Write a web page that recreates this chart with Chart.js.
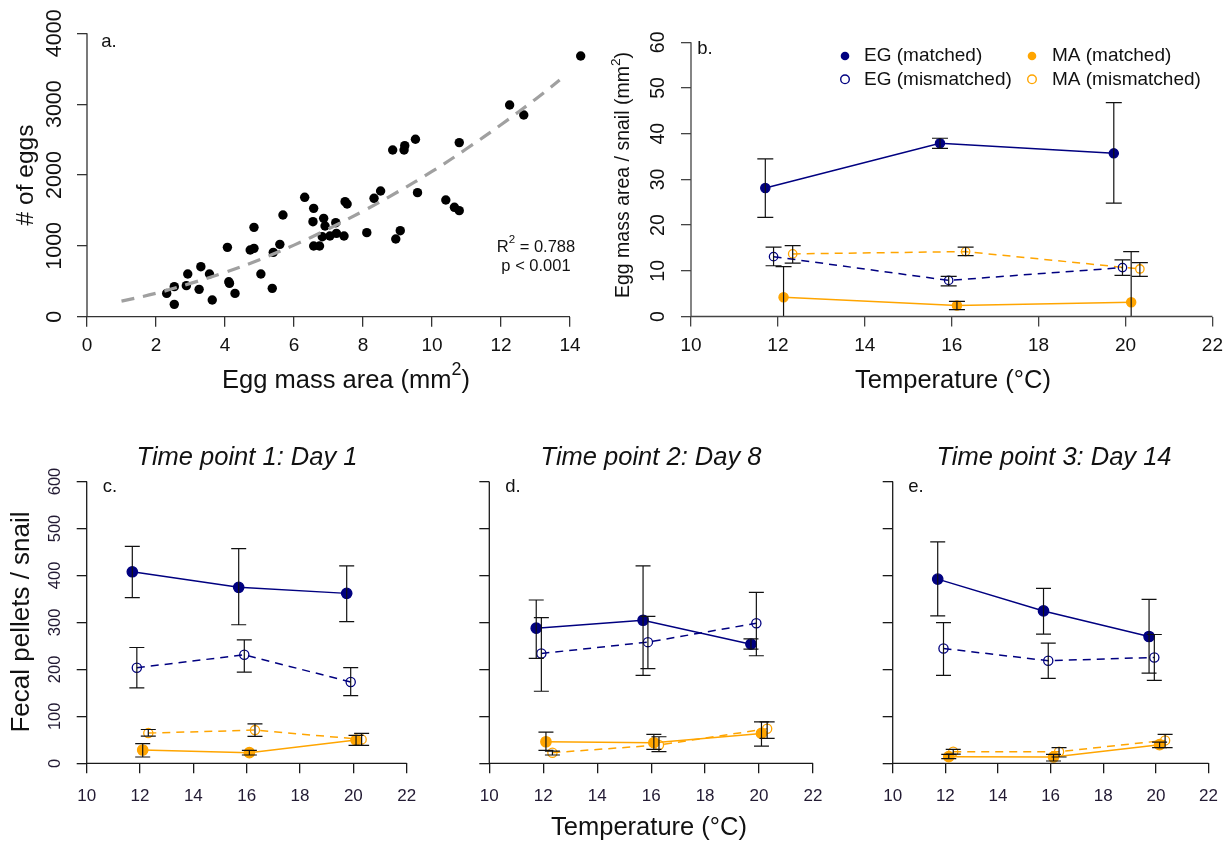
<!DOCTYPE html>
<html><head><meta charset="utf-8">
<script src="https://cdn.jsdelivr.net/npm/chart.js@4.4.0/dist/chart.umd.min.js"></script>
<style>
html,body{margin:0;padding:0;background:#fff;}
#wrap{position:relative;width:1231px;height:846px;overflow:hidden;background:#fff;}
#wrap canvas{position:absolute;left:0;top:0;}
</style></head>
<body><div id="wrap">
<canvas id="pa" width="1231" height="846"></canvas>
<canvas id="pb" width="1231" height="846"></canvas>
<canvas id="pc" width="1231" height="846"></canvas>
<canvas id="pd" width="1231" height="846"></canvas>
<canvas id="pe" width="1231" height="846"></canvas>
</div>
<script>
// ---------- tick labels ----------
const aXTicks = [0, 2, 4, 6, 8, 10, 12, 14];
const aYTicks = [0, 1000, 2000, 3000, 4000];
const tempTicks = [10, 12, 14, 16, 18, 20, 22];
const bYTicks = [0, 10, 20, 30, 40, 50, 60];
const pelletTicks = [0, 100, 200, 300, 400, 500, 600];
const seriesNames = ['EG (matched)', 'EG (mismatched)', 'MA (matched)', 'MA (mismatched)'];
const panelTitles = ['Time point 1: Day 1', 'Time point 2: Day 8', 'Time point 3: Day 14'];

// ---------- panel a: egg mass area vs eggs ----------
const aArea = [2.31,2.53,2.53,2.88,2.92,3.25,3.30,3.55,3.63,4.07,4.11,4.13,4.29,4.73,4.84,4.84,5.04,5.37,5.40,5.59,5.68,6.31,6.57,6.55,6.57,6.74,6.86,6.90,6.82,7.04,7.21,7.23,7.45,7.54,7.48,8.11,8.32,8.51,8.86,8.95,9.08,9.21,9.19,9.52,9.58,10.40,10.65,10.79,10.79,12.25,12.66,14.31];
const aEggs = [329,424,174,438,602,386,706,602,235,979,494,470,329,941,965,1261,602,400,908,1021,1435,1685,1529,1341,998,998,1388,1280,1129,1139,1327,1176,1139,1591,1624,1186,1671,1774,2353,1097,1214,2414,2353,2504,1751,1647,1544,1497,2457,2988,2847,3680];
const aFitX = [1, 2, 3, 4, 5, 6, 7, 8, 9, 10, 11, 12, 13, 13.7];
const aFitY = [220, 330, 470, 625, 805, 1010, 1240, 1490, 1760, 2050, 2370, 2710, 3070, 3340];

// ---------- panel b: egg mass area / snail ----------
const bEGmX = [11.71, 15.73, 19.73];
const bEGmY = [28.1, 37.9, 35.7];
const bEGmLo = [21.7, 36.8, 24.8];
const bEGmHi = [34.5, 39.0, 46.8];
const bEGxX = [11.9, 15.93, 19.93];
const bEGxY = [13.1, 7.9, 10.7];
const bEGxLo = [11.1, 6.7, 9.0];
const bEGxHi = [15.2, 8.8, 12.4];
const bMAmX = [12.13, 16.12, 20.13];
const bMAmY = [4.2, 2.4, 3.1];
const bMAmLo = [-2.4, 1.5, -8.0];
const bMAmHi = [10.9, 3.3, 14.2];
const bMAxX = [12.34, 16.32, 20.33];
const bMAxY = [13.7, 14.2, 10.4];
const bMAxLo = [11.7, 13.3, 8.8];
const bMAxHi = [15.5, 15.2, 11.8];

// ---------- panel c: day 1 ----------
const cEGmX = [11.71, 15.7, 19.75];
const cEGmY = [407.8, 374.6, 361.8];
const cEGmLo = [352.6, 295, 301.8];
const cEGmHi = [462, 457, 420.5];
const cEGxX = [11.88, 15.91, 19.9];
const cEGxY = [203.5, 231, 173];
const cEGxLo = [160.4, 194.3, 144];
const cEGxHi = [246.6, 263, 203.5];
const cMAmX = [12.1, 16.1, 20.1];
const cMAmY = [28.3, 22.6, 49.5];
const cMAmLo = [13.4, 17.7, 38.2];
const cMAmHi = [41.7, 27.6, 59.4];
const cMAxX = [12.31, 16.31, 20.31];
const cMAxY = [64.3, 70.7, 50.9];
const cMAxLo = [58, 57.2, 38.2];
const cMAxHi = [72, 84.1, 63.6];

// ---------- panel d: day 8 ----------
const dEGmX = [11.74, 15.7, 19.7];
const dEGmY = [287.6, 304.6, 253.7];
const dEGmLo = [223.3, 187.3, 243.1];
const dEGmHi = [347.7, 420.5, 265];
const dEGxX = [11.93, 15.88, 19.9];
const dEGxY = [233.9, 258, 298.2];
const dEGxLo = [153.4, 201.4, 229];
const dEGxHi = [310.2, 313, 364];
const dMAmX = [12.1, 16.1, 20.09];
const dMAmY = [45.9, 43.8, 63.6];
const dMAmLo = [27.6, 29.7, 36.7];
const dMAmHi = [66.4, 61.5, 88.3];
const dMAxX = [12.34, 16.29, 20.3];
const dMAxY = [22.6, 38.9, 73.5];
const dMAxLo = [17.7, 24.7, 53];
const dMAxHi = [26.1, 56.5, 88.3];

// ---------- panel e: day 14 ----------
const eEGmX = [11.71, 15.73, 19.74];
const eEGmY = [392.2, 324.4, 270];
const eEGmLo = [313.8, 274.9, 192.2];
const eEGmHi = [471.4, 372.4, 349.1];
const eEGxX = [11.93, 15.91, 19.94];
const eEGxY = [244.5, 218.4, 225.4];
const eEGxLo = [187.3, 180.9, 176.7];
const eEGxHi = [299.6, 255.8, 274.2];
const eMAmX = [12.13, 16.11, 20.14];
const eMAmY = [14.1, 13.4, 39.6];
const eMAmLo = [9.9, 4.9, 33.2];
const eMAmHi = [19.1, 19.1, 45.2];
const eMAxX = [12.3, 16.32, 20.35];
const eMAxY = [24.7, 24.7, 48.8];
const eMAxLo = [19.7, 13.4, 33.2];
const eMAxHi = [29.7, 33.2, 61.5];

// ---------- styling ----------
const FONT = '"Liberation Sans", Arial, Helvetica, sans-serif';
const NAVY = '#000080';
const ORANGE = '#FFA500';
Chart.defaults.font.family = FONT;
const W = 1231, H = 846, Y_W = 20, X_H = 40;

function pts(xs, ys) { return xs.map((x, i) => ({x: x, y: ys[i]})); }

// rich text: parts = [[string, isSuperscript], ...], centred (or left-aligned) at x, y
function rich(ctx, parts, x, y, size, opt) {
  opt = opt || {};
  const pre = opt.italic ? 'italic ' : '';
  const supSize = size * 0.7;
  ctx.save();
  ctx.fillStyle = opt.color || '#111';
  ctx.textBaseline = 'middle';
  ctx.textAlign = 'left';
  let total = 0;
  const widths = parts.map(p => {
    ctx.font = pre + (p[1] ? supSize : size) + 'px ' + FONT;
    const w = ctx.measureText(p[0]).width; total += w; return w;
  });
  ctx.translate(x, y);
  if (opt.rot) ctx.rotate(-Math.PI / 2);
  let cx = opt.align === 'left' ? 0 : -total / 2;
  parts.forEach((p, i) => {
    ctx.font = pre + (p[1] ? supSize : size) + 'px ' + FONT;
    ctx.fillText(p[0], cx, p[1] ? -size * 0.42 : 0);
    cx += widths[i];
  });
  ctx.restore();
}
function text(ctx, s, x, y, size, opt) { rich(ctx, [[s, false]], x, y, size, opt); }

function axesLines(chart, color) {
  const ctx = chart.ctx, xs = chart.scales.x, ys = chart.scales.y, ca = chart.chartArea;
  const xt = xs.ticks, yt = ys.ticks;
  ctx.save();
  ctx.strokeStyle = color; ctx.lineWidth = 1.3;
  ctx.beginPath();
  ctx.moveTo(xs.getPixelForValue(xt[0].value), ca.bottom);
  ctx.lineTo(xs.getPixelForValue(xt[xt.length - 1].value), ca.bottom);
  ctx.moveTo(ca.left, ys.getPixelForValue(yt[0].value));
  ctx.lineTo(ca.left, ys.getPixelForValue(yt[yt.length - 1].value));
  ctx.stroke();
  ctx.restore();
}

function yLabels(chart, labels, x, size, color) {
  const ys = chart.scales.y;
  labels.forEach(v => text(chart.ctx, String(v), x, ys.getPixelForValue(v), size, {rot: true, color: color}));
}

function errorBars(chart, groups, cap) {
  const ctx = chart.ctx, xs = chart.scales.x, ys = chart.scales.y, ca = chart.chartArea;
  ctx.save();
  ctx.beginPath(); ctx.rect(ca.left, ca.top, ca.right - ca.left, ca.bottom - ca.top); ctx.clip();
  ctx.strokeStyle = '#111'; ctx.lineWidth = 1.2;
  groups.forEach(g => {
    g.x.forEach((xv, i) => {
      const px = xs.getPixelForValue(xv);
      const lo = ys.getPixelForValue(g.lo[i]), hi = ys.getPixelForValue(g.hi[i]);
      ctx.beginPath();
      ctx.moveTo(px, lo); ctx.lineTo(px, hi);
      ctx.moveTo(px - cap, lo); ctx.lineTo(px + cap, lo);
      ctx.moveTo(px - cap, hi); ctx.lineTo(px + cap, hi);
      ctx.stroke();
    });
  });
  ctx.restore();
}

function makeChart(id, cfg) {
  const A = cfg.area;
  return new Chart(document.getElementById(id), {
    type: 'scatter',
    data: {datasets: cfg.datasets},
    options: {
      responsive: false, animation: false, devicePixelRatio: 1,
      layout: {padding: {left: A.left - Y_W, right: W - A.right, top: A.top, bottom: H - A.bottom - X_H}},
      plugins: {legend: {display: false}, tooltip: {enabled: false}, title: {display: false}},
      scales: {
        x: {
          type: 'linear', min: cfg.xMin, max: cfg.xMax,
          afterBuildTicks: s => { s.ticks = cfg.xTicks.map(v => ({value: v})); },
          afterFit: s => { s.height = X_H; },
          border: {display: false},
          grid: {drawOnChartArea: false, drawTicks: true, tickLength: 10, color: cfg.axisColor, lineWidth: 1.3},
          ticks: {autoSkip: false, maxRotation: 0, padding: cfg.xPad, color: cfg.tickColor,
                  font: {family: FONT, size: cfg.xTickSize}}
        },
        y: {
          type: 'linear', min: cfg.yMin, max: cfg.yMax,
          afterBuildTicks: s => { s.ticks = cfg.yTicks.map(v => ({value: v})); },
          afterFit: s => { s.width = Y_W; },
          border: {display: false},
          grid: {drawOnChartArea: false, drawTicks: true, tickLength: 10, color: cfg.axisColor, lineWidth: 1.3},
          ticks: {display: false}
        }
      }
    },
    plugins: [{
      id: 'deco_' + id,
      afterDatasetsDraw(chart) { if (cfg.errors) errorBars(chart, cfg.errors, cfg.cap); },
      afterDraw(chart) { axesLines(chart, cfg.axisColor); cfg.draw(chart); }
    }]
  });
}

function seriesSets(EGm, EGx, MAm, MAx, rf, ro) {
  const base = {showLine: true, borderWidth: 1.5, pointBorderWidth: 1.3, tension: 0};
  return [
    Object.assign({}, base, {label: seriesNames[0], data: EGm, borderColor: NAVY, pointBackgroundColor: NAVY, pointBorderColor: NAVY, pointRadius: rf}),
    Object.assign({}, base, {label: seriesNames[1], data: EGx, borderColor: NAVY, borderDash: [8, 6], pointBackgroundColor: 'rgba(0,0,0,0)', pointBorderColor: NAVY, pointRadius: ro}),
    Object.assign({}, base, {label: seriesNames[2], data: MAm, borderColor: ORANGE, pointBackgroundColor: ORANGE, pointBorderColor: ORANGE, pointRadius: rf}),
    Object.assign({}, base, {label: seriesNames[3], data: MAx, borderColor: ORANGE, borderDash: [8, 6], pointBackgroundColor: 'rgba(0,0,0,0)', pointBorderColor: ORANGE, pointRadius: ro})
  ];
}

// ---------- panel a ----------
makeChart('pa', {
  area: {left: 87, right: 87 + 14.5 * 34.5, top: 33.3, bottom: 316.7},
  xMin: 0, xMax: 14.5, yMin: 0, yMax: 4000, xTicks: aXTicks, yTicks: aYTicks,
  axisColor: '#333', tickColor: '#111', xTickSize: 19, xPad: 8,
  datasets: [
    {label: 'fit', data: pts(aFitX, aFitY), showLine: true, borderColor: '#a0a0a0', borderWidth: 3.2,
     borderDash: [13, 9], pointRadius: 0, tension: 0.4, clip: false},
    {label: 'eggs', data: pts(aArea, aEggs), showLine: false, pointRadius: 4.7, pointBackgroundColor: '#000',
     pointBorderColor: '#000', pointBorderWidth: 0, clip: false}
  ],
  draw(chart) {
    const ctx = chart.ctx;
    yLabels(chart, aYTicks, 55, 21.5, '#111');
    text(ctx, '# of eggs', 26, 175, 24.5, {rot: true});
    rich(ctx, [['Egg mass area (mm', false], ['2', true], [')', false]], 346, 381, 25.5);
    text(ctx, 'a.', 109, 42, 18.5);
    rich(ctx, [['R', false], ['2', true], [' = 0.788', false]], 536, 247, 16.5);
    text(ctx, 'p < 0.001', 536, 266, 16.5);
  }
});

// ---------- panel b ----------
makeChart('pb', {
  area: {left: 691, right: 1213, top: 42.3, bottom: 316.5},
  xMin: 10, xMax: 22, yMin: 0, yMax: 60, xTicks: tempTicks, yTicks: bYTicks,
  axisColor: '#444', tickColor: '#111', xTickSize: 19, xPad: 8,
  datasets: seriesSets(pts(bEGmX, bEGmY), pts(bEGxX, bEGxY), pts(bMAmX, bMAmY), pts(bMAxX, bMAxY), 4.6, 4.2),
  errors: [
    {x: bEGmX, lo: bEGmLo, hi: bEGmHi}, {x: bEGxX, lo: bEGxLo, hi: bEGxHi},
    {x: bMAmX, lo: bMAmLo, hi: bMAmHi}, {x: bMAxX, lo: bMAxLo, hi: bMAxHi}
  ],
  cap: 8,
  draw(chart) {
    const ctx = chart.ctx;
    yLabels(chart, bYTicks, 659, 19.5, '#111');
    rich(ctx, [['Egg mass area / snail (mm', false], ['2', true], [')', false]], 624, 175, 19.5, {rot: true});
    text(ctx, 'Temperature (\u00B0C)', 953, 381, 25.5);
    text(ctx, 'b.', 705, 49, 18.5);
    // legend
    const rows = [56, 79.3], mx = [845, 1032], tx = [864, 1052];
    const cols = [NAVY, NAVY, ORANGE, ORANGE];
    seriesNames.forEach((n, i) => {
      const c = i < 2 ? 0 : 1, r = i % 2;
      ctx.save();
      ctx.beginPath(); ctx.arc(mx[c], rows[r], 4.3, 0, Math.PI * 2);
      if (r === 0) { ctx.fillStyle = cols[i]; ctx.fill(); }
      else { ctx.strokeStyle = cols[i]; ctx.lineWidth = 1.4; ctx.stroke(); }
      ctx.restore();
      text(ctx, n, tx[c], rows[r], 19, {align: 'left'});
    });
  }
});

// ---------- panels c, d, e ----------
const lower = [
  {id: 'pc', left: 86.7, right: 406.7, letter: 'c.', lx: 110, title: panelTitles[0], tx: 247,
   sets: [pts(cEGmX, cEGmY), pts(cEGxX, cEGxY), pts(cMAmX, cMAmY), pts(cMAxX, cMAxY)],
   errors: [{x: cEGmX, lo: cEGmLo, hi: cEGmHi}, {x: cEGxX, lo: cEGxLo, hi: cEGxHi}, {x: cMAmX, lo: cMAmLo, hi: cMAmHi}, {x: cMAxX, lo: cMAxLo, hi: cMAxHi}]},
  {id: 'pd', left: 489.3, right: 813, letter: 'd.', lx: 513, title: panelTitles[1], tx: 651,
   sets: [pts(dEGmX, dEGmY), pts(dEGxX, dEGxY), pts(dMAmX, dMAmY), pts(dMAxX, dMAxY)],
   errors: [{x: dEGmX, lo: dEGmLo, hi: dEGmHi}, {x: dEGxX, lo: dEGxLo, hi: dEGxHi}, {x: dMAmX, lo: dMAmLo, hi: dMAmHi}, {x: dMAxX, lo: dMAxLo, hi: dMAxHi}]},
  {id: 'pe', left: 892.7, right: 1212.7, letter: 'e.', lx: 916, title: panelTitles[2], tx: 1054,
   sets: [pts(eEGmX, eEGmY), pts(eEGxX, eEGxY), pts(eMAmX, eMAmY), pts(eMAxX, eMAxY)],
   errors: [{x: eEGmX, lo: eEGmLo, hi: eEGmHi}, {x: eEGxX, lo: eEGxLo, hi: eEGxHi}, {x: eMAmX, lo: eMAmLo, hi: eMAmHi}, {x: eMAxX, lo: eMAxLo, hi: eMAxHi}]}
];
lower.forEach((p, k) => {
  makeChart(p.id, {
    area: {left: p.left, right: p.right, top: 481.5, bottom: 763.3},
    xMin: 10, xMax: 22, yMin: 0, yMax: 600, xTicks: tempTicks, yTicks: pelletTicks,
    axisColor: '#1a1a1a', tickColor: '#221a33', xTickSize: 17, xPad: 13,
    datasets: seriesSets(p.sets[0], p.sets[1], p.sets[2], p.sets[3], 5.2, 4.6),
    errors: p.errors, cap: 7.5,
    draw(chart) {
      const ctx = chart.ctx;
      if (k === 0) {
        yLabels(chart, pelletTicks, 55, 16.5, '#221a33');
        text(ctx, 'Fecal pellets / snail', 22, 622, 26, {rot: true});
      }
      if (k === 1) text(ctx, 'Temperature (\u00B0C)', 649, 828, 25.5);
      text(ctx, p.title, p.tx, 458, 25.5, {italic: true});
      text(ctx, p.letter, p.lx, 487, 18.5);
    }
  });
});
</script>
</body></html>
